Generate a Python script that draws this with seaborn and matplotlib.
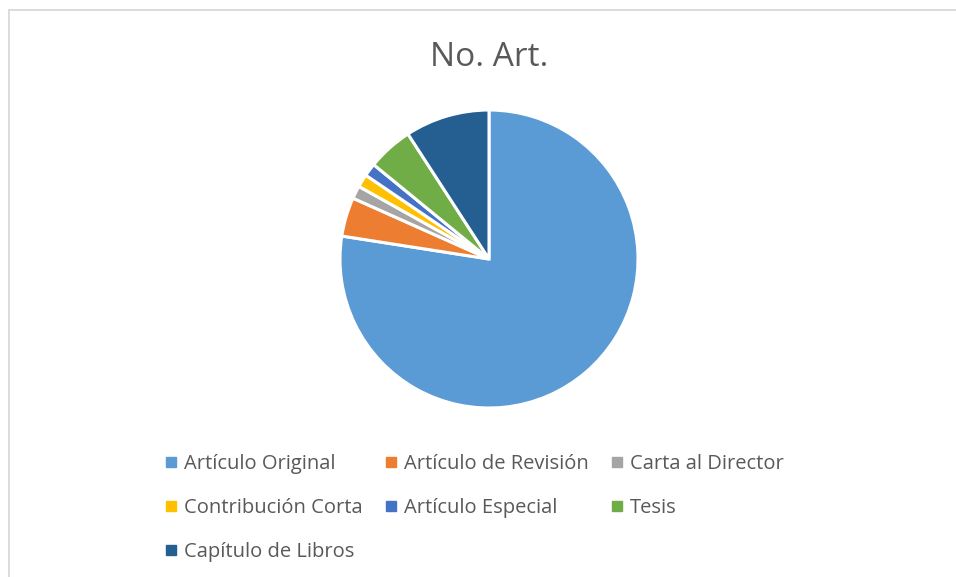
import matplotlib
matplotlib.use("Agg")
import matplotlib.pyplot as plt
from matplotlib.lines import Line2D
import seaborn as sns

# data
categories = ["Artículo Original", "Artículo de Revisión", "Carta al Director",
              "Contribución Corta", "Artículo Especial", "Tesis", "Capítulo de Libros"]
counts = [220, 12, 4, 4, 4, 14, 26]
colors = ["#5B9BD5", "#ED7D31", "#A5A5A5", "#FFC000", "#4472C4", "#70AD47", "#255E91"]
title = "No. Art."

sns.set_theme(style="white")
plt.rcParams["font.family"] = ["Open Sans", "DejaVu Sans"]

W, H = 956, 577
fig = plt.figure(figsize=(W / 100, H / 100), dpi=100)

# chart frame (left and top edges visible)
fig.add_artist(Line2D([8.5 / W, 8.5 / W], [0, 1 - 10 / H], transform=fig.transFigure,
                      color="#D9D9D9", lw=1.3))
fig.add_artist(Line2D([8.5 / W, 1], [1 - 10 / H, 1 - 10 / H], transform=fig.transFigure,
                      color="#D9D9D9", lw=1.3))

cx, cy, r = 489, 259, 149
ax = fig.add_axes([(cx - r) / W, (H - cy - r) / H, 2 * r / W, 2 * r / H])
wedges, _ = ax.pie(counts, colors=colors, startangle=90, counterclock=False, radius=1,
                   wedgeprops=dict(edgecolor="white", linewidth=2.2))
for w in wedges:
    w.set_clip_on(False)
ax.set_xlim(-1, 1)
ax.set_ylim(-1, 1)
ax.set_aspect("equal")
ax.axis("off")

fig.text(489 / W, 1 - 57 / H, title, ha="center", va="center", fontsize=24, color="#595959")

# legend, row-major order in a 3-column grid
order = [0, 3, 6, 1, 4, 2, 5]
handles = [Line2D([], [], marker="s", ls="", markersize=7, color=colors[i]) for i in order]
labels = [categories[i] for i in order]
fig.legend(handles, labels, ncol=3, loc="upper left",
           bbox_to_anchor=(148 / W, 1 - 436 / H), frameon=False,
           fontsize=14.5, labelcolor="#595959", handlelength=0.5, handletextpad=0.4,
           columnspacing=1.15, labelspacing=1.2)

fig.savefig("out.png", dpi=100)
